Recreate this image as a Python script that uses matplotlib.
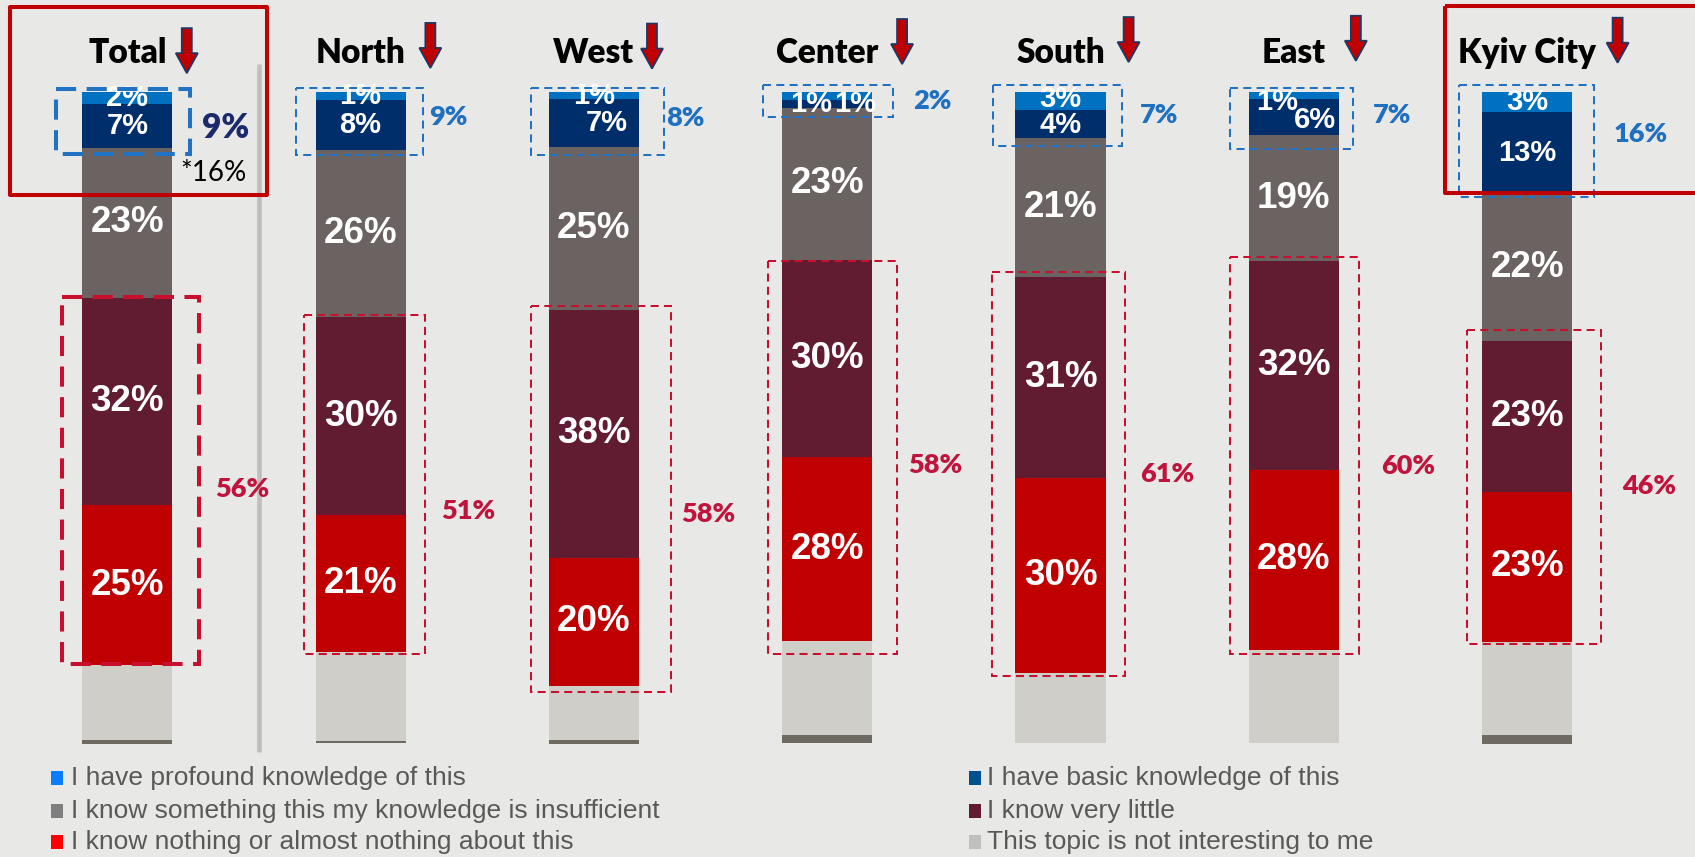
import matplotlib
matplotlib.use('Agg')
import matplotlib.pyplot as plt
from matplotlib.patches import Rectangle, FancyArrow
import numpy as np

# ---------------- data ----------------
categories = ['Total', 'North', 'West', 'Center', 'South', 'East', 'Kyiv City']
series_names = ['I have profound knowledge of this',
                'I have basic knowledge of this',
                'I know something this my knowledge is insufficient',
                'I know very little',
                'I know nothing or almost nothing about this',
                'This topic is not interesting to me',
                'Hard to say']
profound        = [1.8, 1.2, 1.1, 1.2, 2.7, 1.0, 3.0]
basic           = [6.8, 7.7, 7.3, 1.2, 4.3, 5.6, 12.8]
something       = [23.0, 25.7, 25.0, 23.4, 21.4, 19.4, 22.4]
very_little     = [31.8, 30.3, 38.1, 30.3, 30.8, 32.0, 23.2]
nothing         = [24.6, 21.1, 19.7, 28.1, 30.0, 27.6, 23.0]
not_interesting = [11.5, 13.6, 8.2, 14.5, 10.8, 14.4, 14.3]
hard_to_say     = [0.5, 0.4, 0.6, 1.3, 0.0, 0.0, 1.3]
total_note = '*16%'

# ---------------- style ----------------
BG = '#E8E8E6'
bar_colors = ['#0070C0', '#002E6A', '#6B6361', '#621C32', '#C00000', '#CFCEC9', '#6E6A62']
legend_colors = ['#0A7CFF', '#00508F', '#7F7F7F', '#621B32', '#FF0000', '#C0C0C0']
BLUE_DASH = '#2272C3'
RED_DASH = '#C8102E'
BLUE_SUM = '#1F70C1'
RED_SUM = '#C0143C'
NAVY = '#1B2A6B'

W, H = 1695, 857
fig = plt.figure(figsize=(W / 100, H / 100), dpi=100, facecolor=BG)
ax = fig.add_axes([0, 0, 1, 1])
ax.set_facecolor(BG)
ax.axis('off')

x0, dxp = 127.3, 233.3          # px of first bar center, px per category
ytop, ypx = 92.0, 6.515         # px of 0 %, px per 1 %
ax.set_xlim(-x0 / dxp, (W - x0) / dxp)
ax.set_ylim(100 + (H - 743.5) / ypx, -ytop / ypx)

n = len(categories)
xs = np.arange(n)
BW = 0.386
stack = [profound, basic, something, very_little, nothing, not_interesting, hard_to_say]
cum = np.zeros(n)
starts = []
for vals, col in zip(stack, bar_colors):
    vals = np.array(vals, dtype=float)
    starts.append(cum.copy())
    ax.bar(xs, vals, width=BW, bottom=cum, color=col, linewidth=0, zorder=2)
    cum = cum + vals

# separator
ax.plot([0.566, 0.566], [-4.3, 101.3], color='#BFBFBF', lw=3.3, zorder=1,
        solid_capstyle='butt')

# ---------------- segment labels ----------------
seg_font = ['Liberation Sans', 'DejaVu Sans']
overrides = {(3, 0): (-0.071, 1.8), (3, 1): (0.12, 1.8),
             (5, 0): (-0.07, 1.5), (5, 1): (0.09, 4.3),
             (2, 1): (0.053, None), (4, 0): (0.0, 1.1), (4, 1): (0.0, 5.0)}
for j in range(5):
    for i in range(n):
        v = stack[j][i]
        yc = starts[j][i] + v / 2
        xc = i
        if (i, j) in overrides:
            ddx, yy = overrides[(i, j)]
            xc = i + ddx
            if yy is not None:
                yc = yy
        size = 21 if j < 2 else 26.5
        ax.text(xc, yc, f'{round(v)}%', ha='center', va='center', color='white',
                fontsize=size, fontweight='bold', family=seg_font, zorder=5)

# ---------------- dashed group boxes ----------------
blue_box_x = [(-0.306, 0.268), (-0.277, 0.269), (-0.269, 0.299), (-0.277, 0.281),
              (-0.29, 0.263), (-0.272, 0.254), (-0.293, 0.288)]
blue_box_top = [-0.5, -0.6, -0.6, -1.0, -1.0, -0.6, -1.0]
blue_box_pad = [0.85, 0.7, 1.2, 1.5, 1.3, 2.2, 0.3]
red_box_x = [(-0.28, 0.306), (-0.242, 0.275), (-0.269, 0.33), (-0.253, 0.298),
             (-0.294, 0.278), (-0.272, 0.28), (-0.257, 0.317)]
red_box_pad_top = [-0.2, -0.3, -0.6, 0.1, -0.7, -0.6, -1.6]
red_box_pad_bot = [-0.2, 0.2, 0.9, 2.0, 0.5, 0.7, 0.4]
know_lbl_x = [0.32, 0.292, 0.309, 0.369, 0.342, 0.337, 0.373]
know_lbl_dy = [1.0, -0.7, -0.5, 0.0, -0.15, -0.5, -1.05]
dk_lbl_x = [0.377, 0.347, 0.375, 0.346, 0.342, 0.373, 0.408]
dk_lbl_dy = [1.3, 4.0, 2.4, 1.2, 0.0, 1.5, -0.3]

sum_font = ['Lato', 'DejaVu Sans']
for i in range(n):
    thick = (i == 0)
    lw = 2.9 if thick else 1.45
    dash = (0, (5, 2.6)) if thick else (0, (4, 2.6))
    # blue box
    know = profound[i] + basic[i]
    bt = blue_box_top[i]
    bb = know + blue_box_pad[i]
    l, r = blue_box_x[i]
    ax.add_patch(Rectangle((i + l, bt), r - l, bb - bt, fill=False, ec=BLUE_DASH,
                           lw=lw, ls=dash, zorder=6))
    # red box
    rs = profound[i] + basic[i] + something[i]
    dk = very_little[i] + nothing[i]
    rt = rs + red_box_pad_top[i]
    rb = rs + dk + red_box_pad_bot[i]
    l, r = red_box_x[i]
    ax.add_patch(Rectangle((i + l, rt), r - l, rb - rt, fill=False, ec=RED_DASH,
                           lw=lw, ls=dash, zorder=6))
    # sums
    if i == 0:
        ax.text(i + know_lbl_x[i], (bt + bb) / 2 + know_lbl_dy[i], f'{round(know)}%',
                ha='left', va='center', color=NAVY, fontsize=24, fontweight='heavy',
                family=sum_font, zorder=7)
        ax.text(i + 0.229, 12.4, total_note, ha='left', va='center', color='black',
                fontsize=20, family=sum_font, zorder=7)
    else:
        ax.text(i + know_lbl_x[i], (bt + bb) / 2 + know_lbl_dy[i], f'{round(know)}%',
                ha='left', va='center', color=BLUE_SUM, fontsize=19.5, fontweight='heavy',
                family=sum_font, zorder=7)
    ax.text(i + dk_lbl_x[i], (rt + rb) / 2 + dk_lbl_dy[i], f'{round(dk)}%',
            ha='left', va='center', color=RED_SUM, fontsize=19.5, fontweight='heavy',
            family=sum_font, zorder=7)

# ---------------- titles and arrows ----------------
arrow_dx = [0.255, 0.299, 0.249, 0.321, 0.292, 0.266, 0.388]
arrow_top = [-9.8, -10.6, -10.5, -11.2, -11.5, -11.7, -11.4]
for i, c in enumerate(categories):
    ax.text(i, -4.45, c, ha='center', va='baseline', fontsize=24, fontweight='heavy',
            family=sum_font, color='black', zorder=7)
    ax.add_patch(FancyArrow(i + arrow_dx[i], arrow_top[i], 0, 45 / ypx,
                            width=10 / dxp, head_width=22 / dxp, head_length=20 / ypx,
                            length_includes_head=True, fc='#C00000', ec='#203864',
                            lw=1.3, zorder=7))

# highlight frames (Total and Kyiv City)
ax.add_patch(Rectangle((0 - 0.503, -13.1), 1.1005, 28.9, fill=False, ec='#C00000',
                       lw=2.9, joinstyle='round', zorder=8))
ax.add_patch(Rectangle((6 - 0.354, -13.2), 1.2, 28.66, fill=False, ec='#C00000',
                       lw=2.9, joinstyle='round', zorder=8))

# ---------------- legend ----------------
leg_cols_sq = [51, 969]
leg_cols_tx = [71, 987]
leg_rows = [778, 811, 842]
for k in range(6):
    col = k % 2
    row = k // 2
    sx = leg_cols_sq[col]
    sy = leg_rows[row]
    ax.add_patch(Rectangle((sx / W, 1 - (sy + 7) / H), 12 / W, 14 / H,
                           transform=ax.transAxes, fc=legend_colors[k], ec='none',
                           clip_on=False))
    ax.text(leg_cols_tx[col] / W, 1 - sy / H, series_names[k], transform=ax.transAxes,
            ha='left', va='center', fontsize=19, color='#595959',
            family=['Liberation Sans', 'DejaVu Sans'])

fig.savefig('out.png', dpi=100, facecolor=BG)
